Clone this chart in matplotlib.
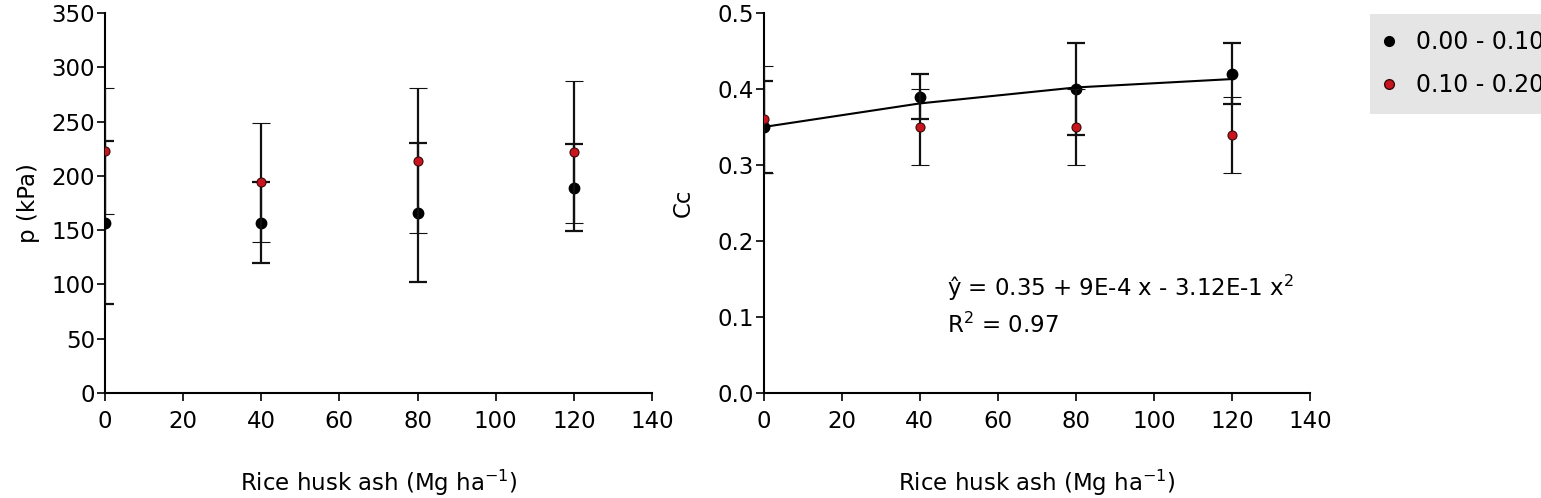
import numpy as np
import matplotlib.pyplot as plt
from matplotlib.lines import Line2D

# datos
dosis = [0, 40, 80, 120]

p_sup = [157, 157, 166, 189]        # 0.00 - 0.10 m
p_sup_err = [75, 37, 64, 40]
p_inf = [223, 194, 214, 222]        # 0.10 - 0.20 m
p_inf_err = [58, 55, 67, 65]

cc_sup = [0.35, 0.39, 0.40, 0.42]
cc_sup_err = [0.06, 0.03, 0.06, 0.04]
cc_inf = [0.36, 0.35, 0.35, 0.34]
cc_inf_err = [0.07, 0.05, 0.05, 0.05]

# ajuste cuadrático de Cc (coeficientes del gráfico)
b0, b1, b2 = 0.35, 9e-4, -3.12e-6

capas = ["0.00 - 0.10 m", "0.10 - 0.20 m"]
ROJO = "#c8141e"

plt.rcParams["font.family"] = "DejaVu Sans"
plt.rcParams["font.size"] = 16.5

fig = plt.figure(figsize=(15.41, 4.98), dpi=100)
ax1 = fig.add_axes([0.0681, 0.2108, 0.3550, 0.7631])
ax2 = fig.add_axes([0.4955, 0.2108, 0.3546, 0.7631])


def dibujar(ax, y1, e1, y2, e2):
    ax.errorbar(dosis, y1, yerr=e1, fmt="o", color="black", ecolor="#111111",
                elinewidth=1.6, capsize=6.5, capthick=1.6, markersize=7.5,
                markeredgecolor="black", zorder=3)
    ax.errorbar(dosis, y2, yerr=e2, fmt="o", color=ROJO, ecolor="#111111",
                elinewidth=1.6, capsize=6.5, capthick=1.6, markersize=6.5,
                markeredgecolor="#3a0a0a", markeredgewidth=0.8, zorder=4)
    ax.spines["top"].set_visible(False)
    ax.spines["right"].set_visible(False)
    for s in ("left", "bottom"):
        ax.spines[s].set_linewidth(1.5)
    ax.tick_params(direction="out", length=6, width=1.2)
    ax.tick_params(axis="y", pad=1)
    ax.tick_params(axis="x", pad=6)
    ax.set_xlim(0, 140)
    ax.set_xticks(range(0, 141, 20))
    ax.set_xlabel("Rice husk ash (Mg ha$^{\\mathregular{-1}}$)", labelpad=25)


dibujar(ax1, p_sup, p_sup_err, p_inf, p_inf_err)
ax1.set_ylim(0, 350)
ax1.set_yticks(range(0, 351, 50))
ax1.set_ylabel("p (kPa)", labelpad=8)

xs = np.array(dosis)
ax2.plot(xs, b0 + b1 * xs + b2 * xs ** 2, color="black", linewidth=1.5, zorder=2)
dibujar(ax2, cc_sup, cc_sup_err, cc_inf, cc_inf_err)
ax2.set_ylim(0, 0.5)
ax2.set_yticks(np.arange(0, 0.51, 0.1))
ax2.set_yticklabels([f"{v:.1f}" for v in np.arange(0, 0.51, 0.1)])
ax2.set_ylabel("Cc", labelpad=16)
ax2.text(47, 0.138, "ŷ = 0.35 + 9E-4 x - 3.12E-1 x$^{\\mathregular{2}}$", va="center")
ax2.text(47, 0.089, "R$^{\\mathregular{2}}$ = 0.97", va="center")

handles = [Line2D([], [], marker="o", linestyle="", color="black", markersize=7),
           Line2D([], [], marker="o", linestyle="", color=ROJO, markeredgecolor="#3a0a0a",
                  markersize=7)]
fig.legend(handles, capas, loc="upper left", bbox_to_anchor=(0.889, 0.972),
           borderaxespad=0, frameon=True, fancybox=False, facecolor="#e5e5e5",
           edgecolor="none", framealpha=1, handletextpad=1.05, handlelength=0.2,
           labelspacing=0.8, borderpad=0.7, fontsize=17)

plt.savefig("out.png", dpi=100)
plt.close()
